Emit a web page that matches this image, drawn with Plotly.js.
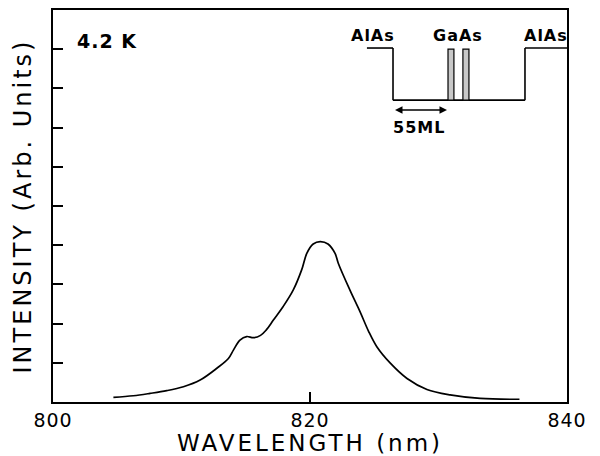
<!DOCTYPE html>
<html><head><meta charset="utf-8">
<script src="https://cdn.plot.ly/plotly-3.0.1.min.js"></script>
<style>html,body{margin:0;padding:0;background:#fff}#c{width:600px;height:456px}
.xtitle,.ytitle{letter-spacing:3px}
.xtick text{letter-spacing:1px}
.annotation-text{letter-spacing:1px}
</style>
</head><body><div id="c"></div>
<script>
const wavelength = [804.7, 806.25, 807.55, 808.85, 810.15, 811.45, 812.75, 813.65, 814.05, 814.55, 815.07, 815.6, 816.15, 816.6, 817.15, 817.9, 818.7, 819.35, 819.75, 820.25, 820.8, 821.4, 821.95, 822.2, 823.1, 823.9, 824.55, 825.2, 826.25, 827.55, 829.1, 830.9, 833.25, 836.3];
const intensity  = [0.12, 0.16, 0.22, 0.29, 0.39, 0.56, 0.86, 1.11, 1.33, 1.58, 1.67, 1.64, 1.70, 1.84, 2.09, 2.43, 2.86, 3.37, 3.79, 4.03, 4.09, 4.03, 3.79, 3.54, 2.86, 2.30, 1.81, 1.41, 0.99, 0.60, 0.32, 0.18, 0.09, 0.07];
const xTicks = [800, 820, 840];
const yTicks = [1, 2, 3, 4, 5, 6, 7, 8, 9];

const font = "DejaVu Sans, Liberation Sans, sans-serif";
const blk = {color: "black", width: 1.6};
const shapes = [
  {type: "line", xref: "x", yref: "y", x0: 824.43, y0: 9.03, x1: 826.46, y1: 9.03, line: blk},
  {type: "line", xref: "x", yref: "y", x0: 826.46, y0: 9.03, x1: 826.46, y1: 7.70, line: blk},
  {type: "line", xref: "x", yref: "y", x0: 826.46, y0: 7.70, x1: 836.73, y1: 7.70, line: blk},
  {type: "line", xref: "x", yref: "y", x0: 836.73, y0: 7.70, x1: 836.73, y1: 9.03, line: blk},
  {type: "line", xref: "x", yref: "y", x0: 836.73, y0: 9.03, x1: 840, y1: 9.03, line: blk},
  {type: "rect", xref: "x", yref: "y", x0: 830.74, y0: 7.70, x1: 831.2, y1: 9.0, line: {color: "black", width: 1.2}, fillcolor: "#c8c8c8"},
  {type: "rect", xref: "x", yref: "y", x0: 831.9, y0: 7.70, x1: 832.37, y1: 9.0, line: {color: "black", width: 1.2}, fillcolor: "#c8c8c8"}
];
const annFont = {family: font, size: 16, color: "black", weight: "bold"};
const annotations = [
  {text: "4.2 K", x: 0.105, y: 0.92, xref: "paper", yref: "paper", xanchor: "center", yanchor: "middle", showarrow: false, font: {family: font, size: 19, color: "black", weight: "bold"}},
  {text: "AlAs", x: 824.9, y: 9.35, xref: "x", yref: "y", showarrow: false, font: annFont},
  {text: "GaAs", x: 831.5, y: 9.35, xref: "x", yref: "y", showarrow: false, font: annFont},
  {text: "AlAs", x: 838.4, y: 9.35, xref: "x", yref: "y", showarrow: false, font: annFont},
  {text: "55ML", x: 828.5, y: 7.0, xref: "x", yref: "y", showarrow: false, font: annFont},
  {text: "", x: 830.66, y: 7.45, ax: 826.5, ay: 7.45, xref: "x", yref: "y", axref: "x", ayref: "y",
   showarrow: true, arrowhead: 2, startarrowhead: 2, arrowside: "end+start", arrowwidth: 1.5, arrowsize: 1, arrowcolor: "black"}
];

Plotly.newPlot("c", [{
  x: wavelength, y: intensity, type: "scatter", mode: "lines",
  line: {color: "black", width: 1.7, shape: "spline", smoothing: 1}
}], {
  width: 600, height: 456,
  margin: {l: 53, r: 33, t: 10, b: 54},
  paper_bgcolor: "white", plot_bgcolor: "white",
  showlegend: false,
  xaxis: {range: [800, 840], tickvals: xTicks, ticks: "inside", ticklen: 10, tickwidth: 2, tickcolor: "black",
    showline: true, linecolor: "black", linewidth: 2.2, mirror: true, showgrid: false, zeroline: false,
    tickfont: {family: font, size: 19, color: "black"},
    title: {text: "WAVELENGTH (nm)", font: {family: font, size: 23, color: "black"}, standoff: 5}},
  yaxis: {range: [0, 10], tickvals: yTicks, ticks: "inside", ticklen: 10, tickwidth: 2, tickcolor: "black",
    showticklabels: false,
    showline: true, linecolor: "black", linewidth: 2.2, mirror: true, showgrid: false, zeroline: false,
    title: {text: "INTENSITY (Arb. Units)", font: {family: font, size: 24, color: "black"}, standoff: 13}},
  shapes: shapes, annotations: annotations
}, {displayModeBar: false, staticPlot: true});
</script></body></html>
